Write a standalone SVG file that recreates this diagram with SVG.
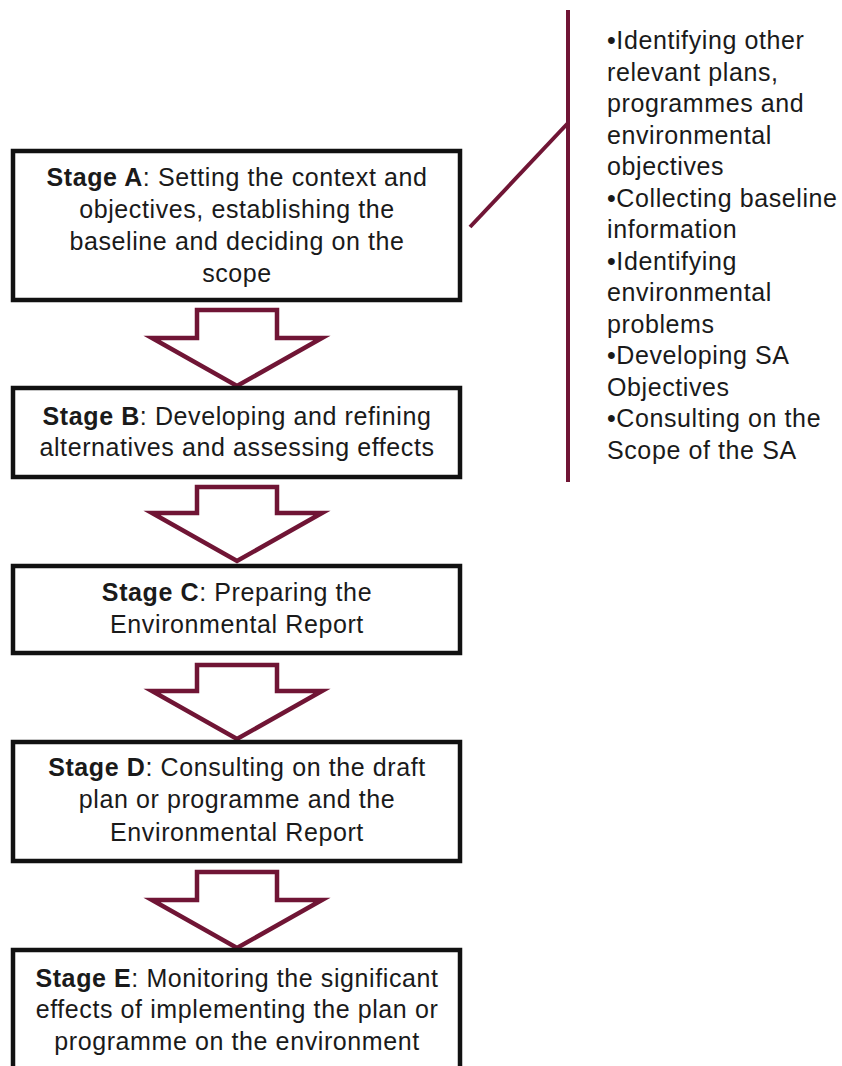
<svg xmlns="http://www.w3.org/2000/svg" width="842" height="1066" viewBox="0 0 842 1066">
<defs>
<style>
.box{fill:#ffffff;stroke:#111111;stroke-width:4.5}
.arr{fill:#ffffff;stroke:#701535;stroke-width:4.5;stroke-linejoin:miter}
.ln{fill:none;stroke:#701535;stroke-width:4}
.t{font-family:"Liberation Sans",Arial,sans-serif;font-size:25px;fill:#1a1a1a;letter-spacing:0.6px}
.c{text-anchor:middle}
.b{font-weight:bold}
</style>
</defs>
<rect width="842" height="1066" fill="#ffffff"/>
<g id="connectors">
<path class="arr" d="M197,310 H277 V338 H322 L237,386 L152,338 H197 Z"/>
<path class="arr" d="M197,487 H277 V513 H322 L237,561 L152,513 H197 Z"/>
<path class="arr" d="M197,665 H277 V691 H322 L237,739 L152,691 H197 Z"/>
<path class="arr" d="M197,872 H277 V900 H322 L237,948 L152,900 H197 Z"/>
<line class="ln" x1="470" y1="227" x2="568" y2="123"/>
<line class="ln" x1="568" y1="10" x2="568" y2="482"/>
</g>
<g id="stageA">
<rect class="box" x="13" y="151" width="447" height="149"/>
<text class="t c" x="237" y="186"><tspan class="b">Stage A</tspan>: Setting the context and</text>
<text class="t c" x="237" y="218">objectives, establishing the</text>
<text class="t c" x="237" y="250">baseline and deciding on the</text>
<text class="t c" x="237" y="282">scope</text>
</g>
<g id="stageB">
<rect class="box" x="13" y="388" width="447" height="89"/>
<text class="t c" x="237" y="425"><tspan class="b">Stage B</tspan>: Developing and refining</text>
<text class="t c" x="237" y="456">alternatives and assessing effects</text>
</g>
<g id="stageC">
<rect class="box" x="13" y="566" width="447" height="87"/>
<text class="t c" x="237" y="601"><tspan class="b">Stage C</tspan>: Preparing the</text>
<text class="t c" x="237" y="633">Environmental Report</text>
</g>
<g id="stageD">
<rect class="box" x="13" y="742" width="447" height="119"/>
<text class="t c" x="237" y="776"><tspan class="b">Stage D</tspan>: Consulting on the draft</text>
<text class="t c" x="237" y="808">plan or programme and the</text>
<text class="t c" x="237" y="841">Environmental Report</text>
</g>
<g id="stageE">
<rect class="box" x="13" y="950" width="447" height="130"/>
<text class="t c" x="237" y="987"><tspan class="b">Stage E</tspan>: Monitoring the significant</text>
<text class="t c" x="237" y="1018">effects of implementing the plan or</text>
<text class="t c" x="237" y="1050">programme on the environment</text>
</g>
<g id="stageA-tasks">
<text class="t" x="607" y="49">•Identifying other</text>
<text class="t" x="607" y="80.5">relevant plans,</text>
<text class="t" x="607" y="112">programmes and</text>
<text class="t" x="607" y="143.5">environmental</text>
<text class="t" x="607" y="175">objectives</text>
<text class="t" x="607" y="206.5">•Collecting baseline</text>
<text class="t" x="607" y="238">information</text>
<text class="t" x="607" y="269.5">•Identifying</text>
<text class="t" x="607" y="301">environmental</text>
<text class="t" x="607" y="332.5">problems</text>
<text class="t" x="607" y="364">•Developing SA</text>
<text class="t" x="607" y="395.5">Objectives</text>
<text class="t" x="607" y="427">•Consulting on the</text>
<text class="t" x="607" y="458.5">Scope of the SA</text>
</g>
</svg>
